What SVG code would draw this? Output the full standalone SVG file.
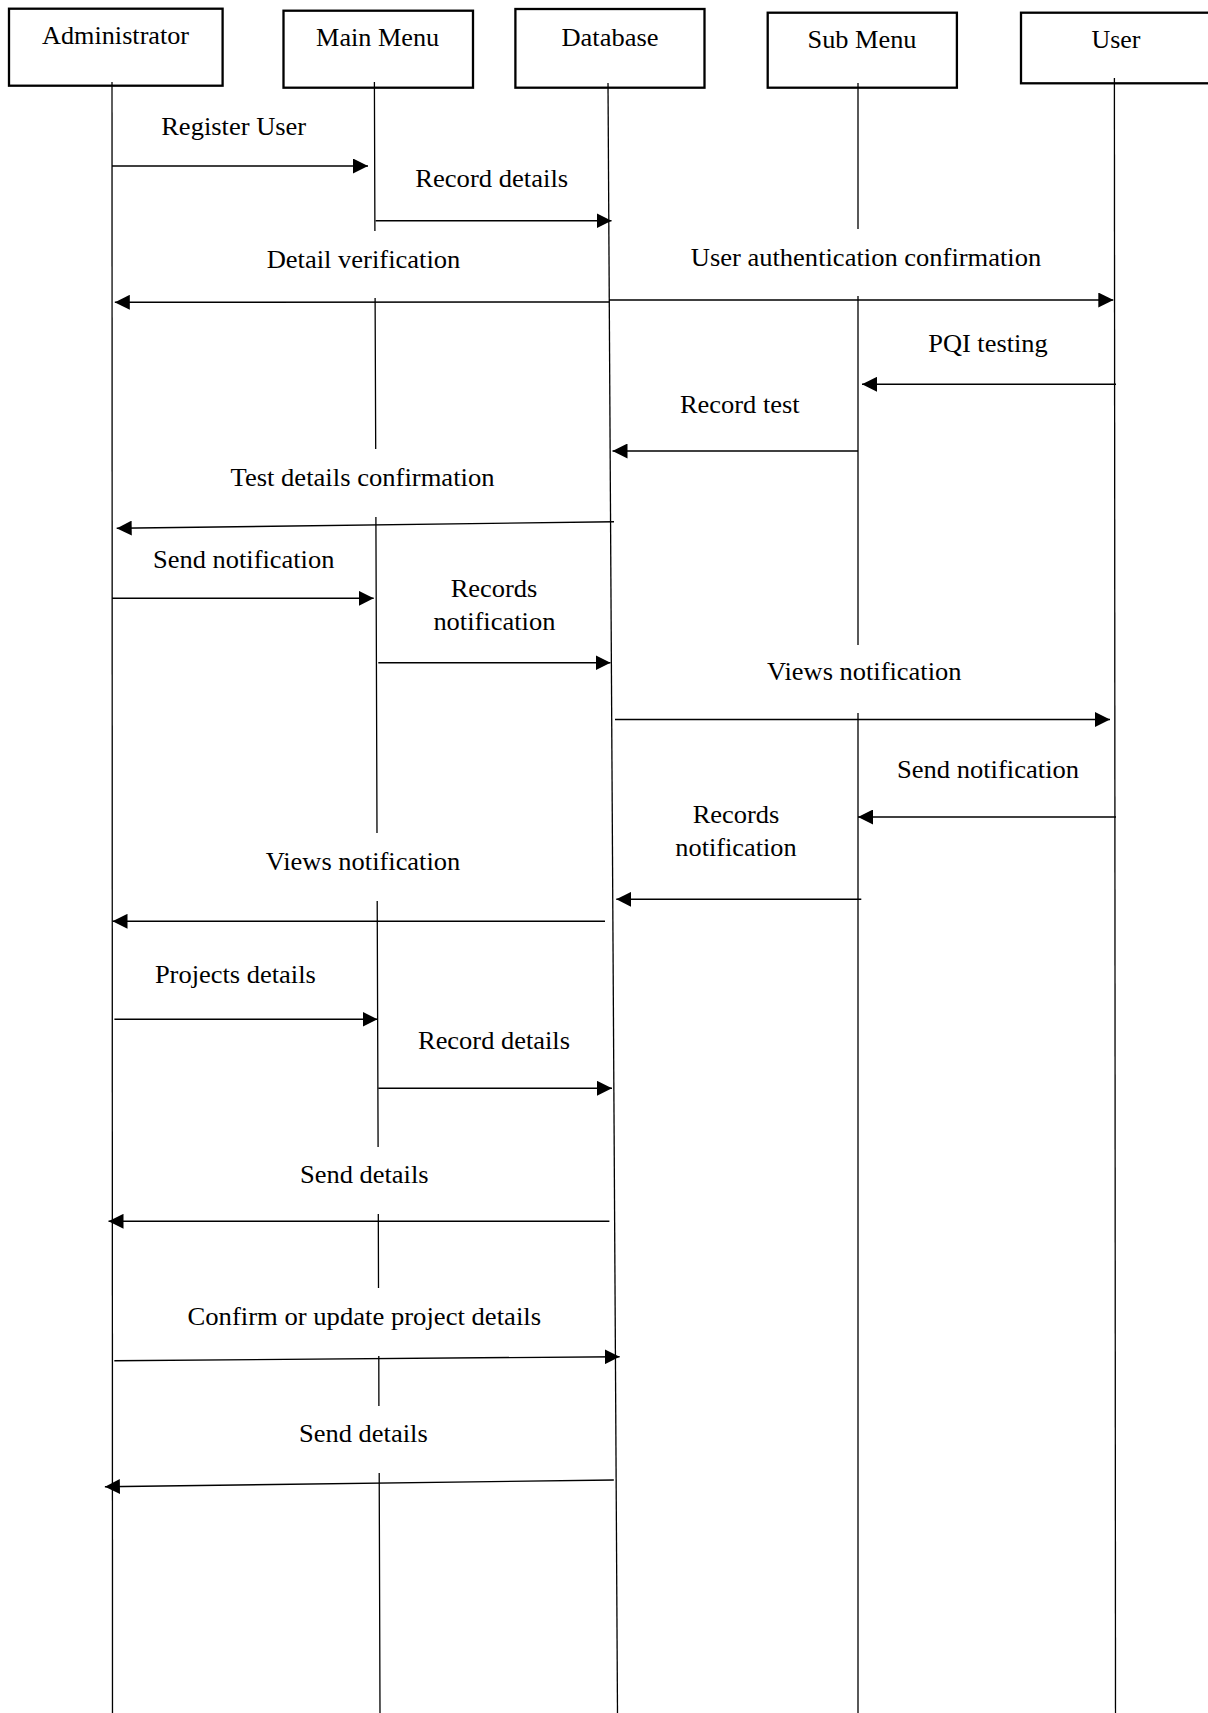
<svg xmlns="http://www.w3.org/2000/svg" width="1208" height="1713" viewBox="0 0 1208 1713">
  <style>
    .box { fill: #fff; stroke: #000; stroke-width: 2.3; }
    .life { stroke: #000; stroke-width: 1.3; fill: none; }
    .msg { stroke: #000; stroke-width: 1.4; fill: none; marker-end: url(#arrow); }
    text { font-family: "Liberation Serif", "Times New Roman", serif; font-size: 26px; fill: #000; text-anchor: middle; }
  </style>
  <defs>
    <marker id="arrow" markerUnits="userSpaceOnUse" markerWidth="15" markerHeight="15" refX="15" refY="7.5" orient="auto">
      <path d="M0,0 L15,7.5 L0,15 z" fill="#000"/>
    </marker>
  </defs>
  <rect width="1208" height="1713" fill="#fff"/>

  <!-- Participants with their lifelines -->
  <g id="administrator">
    <rect class="box" x="9" y="8.7" width="213.6" height="77"/>
    <text x="115.6" y="44" textLength="147" lengthAdjust="spacingAndGlyphs">Administrator</text>
    <line class="life" x1="112" y1="82" x2="112.5" y2="1713"/>
  </g>
  <g id="main-menu">
    <rect class="box" x="283.5" y="10.7" width="189.5" height="77"/>
    <text x="377.6" y="46" textLength="123" lengthAdjust="spacingAndGlyphs">Main Menu</text>
    <path class="life" d="M374.4,82 L374.9,231 M375.1,298 L375.7,449 M375.9,517 L377,833 M377.2,901 L378.1,1147 M378.3,1214 L378.5,1288 M378.8,1356 L378.9,1406 M379.2,1473 L380,1713"/>
  </g>
  <g id="database">
    <rect class="box" x="515.4" y="9" width="189.1" height="78.7"/>
    <text x="610" y="46" textLength="97" lengthAdjust="spacingAndGlyphs">Database</text>
    <line class="life" x1="608" y1="83" x2="617.5" y2="1713"/>
  </g>
  <g id="sub-menu">
    <rect class="box" x="767.7" y="12.7" width="189.2" height="75"/>
    <text x="862" y="48.3" textLength="109" lengthAdjust="spacingAndGlyphs">Sub Menu</text>
    <path class="life" d="M858,83 L858,229 M858,296 L858,645 M858,713 L858,1713"/>
  </g>
  <g id="user">
    <rect class="box" x="1021" y="12.7" width="200" height="70.6"/>
    <text x="1116" y="48.3" textLength="49" lengthAdjust="spacingAndGlyphs">User</text>
    <line class="life" x1="1114.4" y1="78" x2="1115.5" y2="1713"/>
  </g>

  <!-- Messages -->
  <g id="messages">
    <line class="msg" x1="112" y1="166" x2="368" y2="166"/>
    <text x="233.7" y="135" textLength="145" lengthAdjust="spacingAndGlyphs">Register User</text>

    <line class="msg" x1="375.6" y1="220.7" x2="611.5" y2="220.7"/>
    <text x="491.7" y="186.7" textLength="153" lengthAdjust="spacingAndGlyphs">Record details</text>

    <line class="msg" x1="609" y1="302" x2="114.8" y2="302.3"/>
    <text x="363.5" y="267.7" textLength="193.7" lengthAdjust="spacingAndGlyphs">Detail verification</text>

    <line class="msg" x1="609" y1="300" x2="1113.3" y2="300"/>
    <text x="866" y="265.7" textLength="350.5" lengthAdjust="spacingAndGlyphs">User authentication confirmation</text>

    <line class="msg" x1="1116" y1="384.3" x2="862" y2="384.3"/>
    <text x="988" y="351.7" textLength="119.5" lengthAdjust="spacingAndGlyphs">PQI testing</text>

    <line class="msg" x1="858" y1="451" x2="612.5" y2="451"/>
    <text x="739.8" y="413.3" textLength="119.8" lengthAdjust="spacingAndGlyphs">Record test</text>

    <line class="msg" x1="614" y1="521.7" x2="116.7" y2="528.3"/>
    <text x="362.5" y="485.7" textLength="264" lengthAdjust="spacingAndGlyphs">Test details confirmation</text>

    <line class="msg" x1="112" y1="598.3" x2="373.7" y2="598.3"/>
    <text x="243.7" y="567.7" textLength="181.4" lengthAdjust="spacingAndGlyphs">Send notification</text>

    <line class="msg" x1="378.3" y1="662.7" x2="610.5" y2="662.7"/>
    <text x="494" y="596.7" textLength="86.7" lengthAdjust="spacingAndGlyphs">Records</text>
    <text x="494.4" y="630" textLength="122" lengthAdjust="spacingAndGlyphs">notification</text>

    <line class="msg" x1="615" y1="719.5" x2="1110" y2="719.5"/>
    <text x="864.2" y="680" textLength="194.5" lengthAdjust="spacingAndGlyphs">Views notification</text>

    <line class="msg" x1="1116" y1="817" x2="858" y2="817"/>
    <text x="988" y="778.3" textLength="182.2" lengthAdjust="spacingAndGlyphs">Send notification</text>

    <line class="msg" x1="861.3" y1="899.3" x2="616.3" y2="899.3"/>
    <text x="736" y="823.3" textLength="86.7" lengthAdjust="spacingAndGlyphs">Records</text>
    <text x="736" y="856" textLength="121.3" lengthAdjust="spacingAndGlyphs">notification</text>

    <line class="msg" x1="605" y1="921.3" x2="112.5" y2="921.3"/>
    <text x="363" y="870" textLength="194.5" lengthAdjust="spacingAndGlyphs">Views notification</text>

    <line class="msg" x1="114.4" y1="1019.3" x2="377.5" y2="1019.3"/>
    <text x="235.4" y="983.3" textLength="161" lengthAdjust="spacingAndGlyphs">Projects details</text>

    <line class="msg" x1="378.3" y1="1088.3" x2="612" y2="1088.3"/>
    <text x="494" y="1049.3" textLength="152" lengthAdjust="spacingAndGlyphs">Record details</text>

    <line class="msg" x1="609.4" y1="1221.3" x2="108.5" y2="1221.3"/>
    <text x="364.3" y="1183.3" textLength="128.6" lengthAdjust="spacingAndGlyphs">Send details</text>

    <line class="msg" x1="114.3" y1="1360.7" x2="619.6" y2="1356.7"/>
    <text x="364.3" y="1325" textLength="353.5" lengthAdjust="spacingAndGlyphs">Confirm or update project details</text>

    <line class="msg" x1="613.8" y1="1480" x2="104.9" y2="1486.7"/>
    <text x="363.4" y="1441.7" textLength="128.6" lengthAdjust="spacingAndGlyphs">Send details</text>
  </g>
</svg>
